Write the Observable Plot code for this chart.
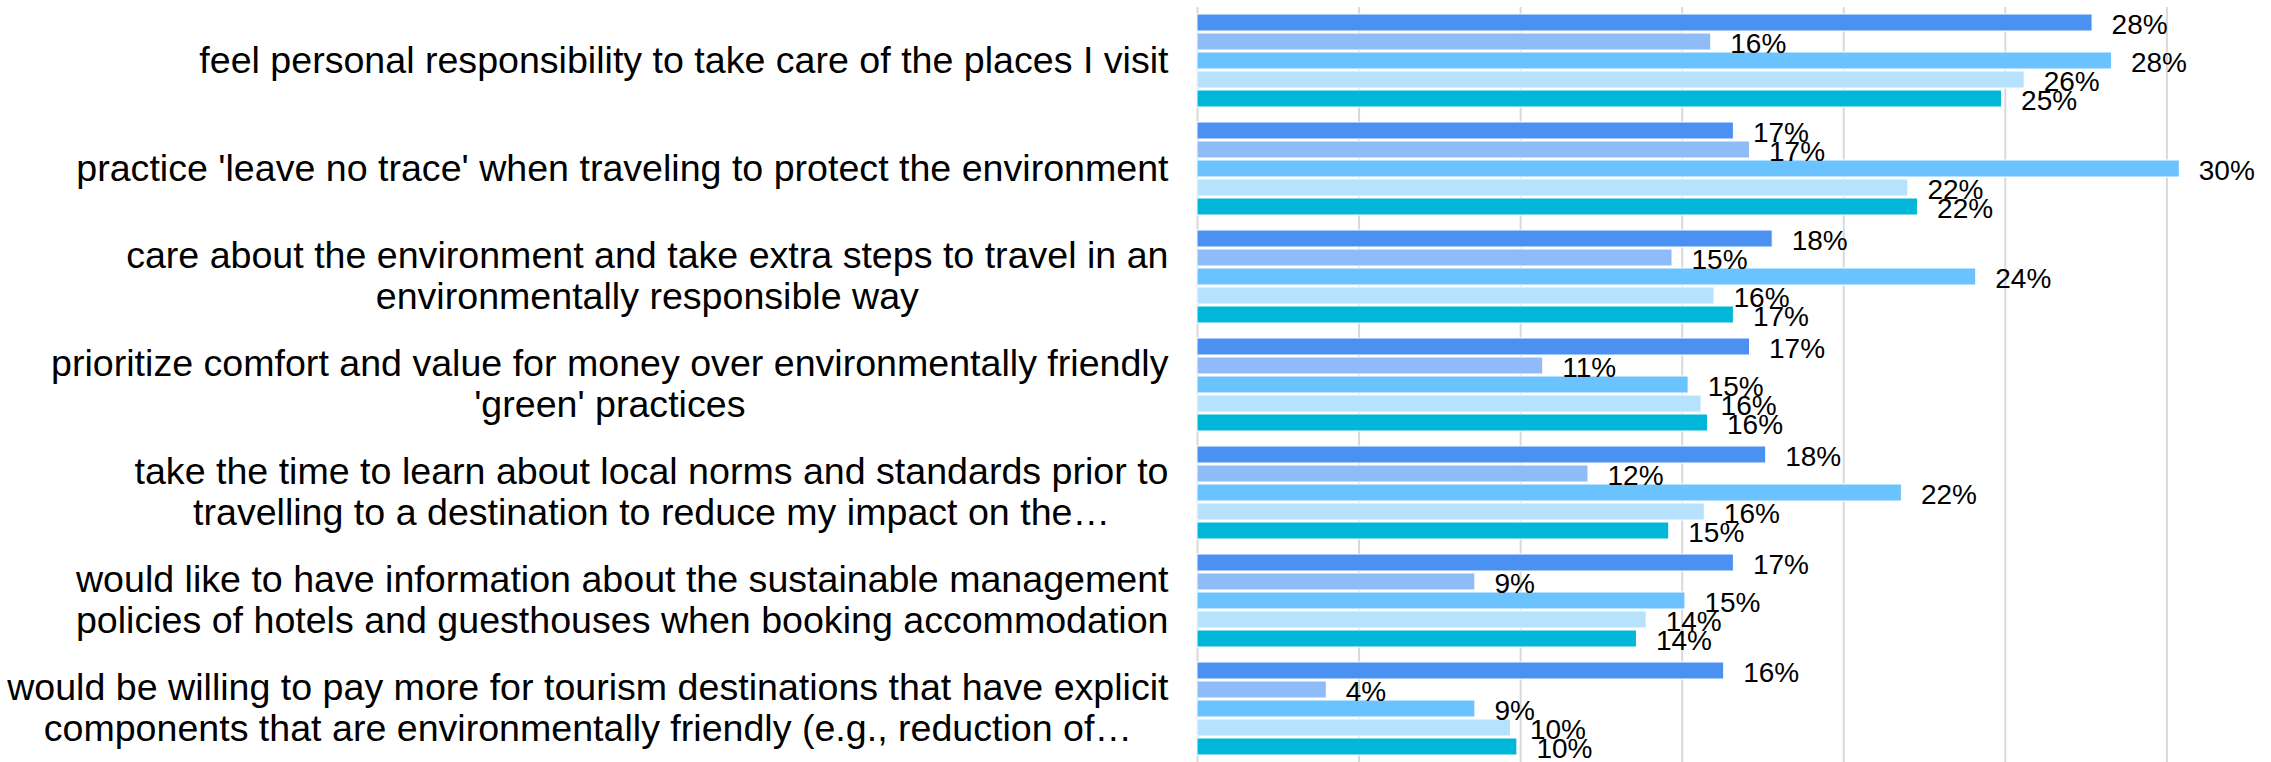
<!DOCTYPE html>
<html>
<head>
<meta charset="utf-8">
<script src="https://cdn.jsdelivr.net/npm/d3@7"></script>
<script src="https://cdn.jsdelivr.net/npm/@observablehq/plot@0.6"></script>
<style>
  html, body { margin: 0; padding: 0; background: #fff; }
  #chart svg { display: block; }
</style>
</head>
<body>
<div id="chart"></div>
<script>
// ---- data ----
const categories = [
  "feel personal responsibility to take care of the places I visit",
  "practice 'leave no trace' when traveling to protect the environment",
  "care about the environment and take extra steps to travel in an\nenvironmentally responsible way",
  "prioritize comfort and value for money over environmentally friendly\n'green' practices",
  "take the time to learn about local norms and standards prior to\ntravelling to a destination to reduce my impact on the…",
  "would like to have information about the sustainable management\npolicies of hotels and guesthouses when booking accommodation",
  "would be willing to pay more for tourism destinations that have explicit\ncomponents that are environmentally friendly (e.g., reduction of…"
];
const seriesNames = ["Series 1", "Series 2", "Series 3", "Series 4", "Series 5"];
const series1 = [27.7, 16.6, 17.8, 17.1, 17.6, 16.6, 16.3];
const series2 = [15.9, 17.1, 14.7, 10.7, 12.1, 8.6, 4.0];
const series3 = [28.3, 30.4, 24.1, 15.2, 21.8, 15.1, 8.6];
const series4 = [25.6, 22.0, 16.0, 15.6, 15.7, 13.9, 9.7];
const series5 = [24.9, 22.3, 16.6, 15.8, 14.6, 13.6, 9.9];
const seriesColors = ["#4B91F1", "#8FBBF8", "#6AC3FF", "#B7E2FE", "#00B7DA"];
const gridTicks = [0, 5, 10, 15, 20, 25, 30];

// ---- build table ----
const seriesValues = [series1, series2, series3, series4, series5];
const rows = [];
categories.forEach((c, i) => {
  seriesNames.forEach((s, j) => rows.push({category: c, series: s, value: seriesValues[j][i]}));
});

// ---- layout ----
const W = 2271, H = 762;
const FONT = "'Liberation Sans', Arial, sans-serif";
const labelSize = 37.6;
const ctx = document.createElement("canvas").getContext("2d");
ctx.font = `${labelSize}px 'Liberation Sans'`;
const blockWidth = (txt) => Math.max(...txt.split("\n").map(l => ctx.measureText(l).width));
const labelGap = 29;

const categoryMarks = categories.map(c =>
  Plot.text([c], {
    fy: d => d,
    text: d => d,
    frameAnchor: "left",
    textAnchor: "middle",
    dx: -(labelGap + blockWidth(c) / 2),
    dy: -2,
    fontSize: labelSize,
    lineHeight: 1.1,
    fill: "#000"
  })
);

const chart = Plot.plot({
  width: W,
  height: H,
  marginLeft: 1197,
  marginRight: 40,
  marginTop: 13,
  marginBottom: 6,
  style: {fontFamily: FONT, background: "#fff", overflow: "visible"},
  x: {domain: [0, 32], axis: null},
  y: {domain: seriesNames, axis: null, paddingInner: 0.1, paddingOuter: 0},
  fy: {domain: categories, axis: null, paddingInner: 0.13, paddingOuter: 0},
  color: {domain: seriesNames, range: seriesColors},
  marks: [
    Plot.ruleX(gridTicks, {stroke: "#d9d9d9", strokeWidth: 2, insetTop: -7, insetBottom: -7}),
    Plot.barX(rows, {x: "value", y: "series", fy: "category", fill: "series", stroke: "#fff", strokeWidth: 1}),
    Plot.text(rows, {
      x: "value", y: "series", fy: "category",
      text: d => `${Math.round(d.value)}%`,
      textAnchor: "start", dx: 19, dy: 2,
      fontSize: 28, fill: "#000"
    }),
    ...categoryMarks
  ]
});
document.getElementById("chart").append(chart);
</script>
</body>
</html>
